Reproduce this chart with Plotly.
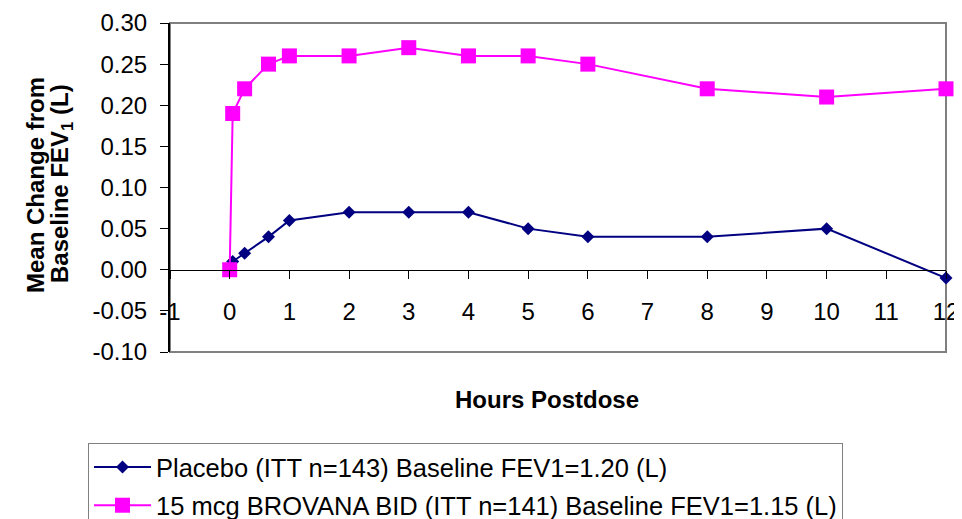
import plotly.graph_objects as go

hours_placebo = [0, 0.05, 0.25, 0.65, 1, 2, 3, 4, 5, 6, 8, 10, 12]
placebo = [0.00, 0.01, 0.02, 0.04, 0.06, 0.07, 0.07, 0.07, 0.05, 0.04, 0.04, 0.05, -0.01]

hours_brovana = [0, 0.05, 0.25, 0.65, 1, 2, 3, 4, 5, 6, 8, 10, 12]
brovana = [0.00, 0.19, 0.22, 0.25, 0.26, 0.26, 0.27, 0.26, 0.26, 0.25, 0.22, 0.21, 0.22]

name_placebo = "Placebo (ITT n=143) Baseline FEV1=1.20 (L)"
name_brovana = "15 mcg BROVANA BID (ITT n=141) Baseline FEV1=1.15 (L)"

x_ticks = list(range(-1, 13))
y_ticks = [-0.10, -0.05, 0.00, 0.05, 0.10, 0.15, 0.20, 0.25, 0.30]

FONT = "Liberation Sans, Arial, sans-serif"

# page has an 8px body margin, so the figure is offset by 8px
OFF = 8
PL, PR, PT, PB = 170, 946, 23, 352  # plot area in page pixels
W, H = 962 - OFF, 519 - OFF


def px(xp):
    return (xp - PL) / (PR - PL)


def py(yp):
    return (PB - yp) / (PB - PT)


fig = go.Figure()
fig.add_trace(go.Scatter(
    x=hours_placebo, y=placebo, name=name_placebo, mode="lines+markers",
    line=dict(color="#000080", width=2),
    marker=dict(symbol="diamond", size=10, color="#000080"),
    cliponaxis=False, legendgroup="a"))
fig.add_trace(go.Scatter(
    x=hours_brovana, y=brovana, name=name_brovana, mode="lines+markers",
    line=dict(color="#FF00FF", width=2),
    marker=dict(symbol="square", size=15, color="#FF00FF"),
    cliponaxis=False, legendgroup="b"))

fig.update_layout(
    width=W, height=H,
    margin=dict(l=PL - OFF, r=962 - PR, t=PT - OFF, b=519 - PB, autoexpand=False),
    paper_bgcolor="white", plot_bgcolor="white",
    font=dict(family=FONT, size=24, color="black"),
    showlegend=True,
    legend=dict(
        x=px(88), y=py(443), xanchor="left", yanchor="top",
        bordercolor="#808080", borderwidth=1, bgcolor="white",
        font=dict(family=FONT, size=25.5, color="black"),
        traceorder="grouped", tracegroupgap=2, itemwidth=57,
    ),
    xaxis=dict(
        range=[-1, 12], tickvals=x_ticks, ticktext=[str(v) for v in x_ticks],
        showgrid=False, zeroline=False,
        showline=True, linecolor="black", linewidth=1,
        ticks="outside", ticklen=8, tickcolor="black",
        anchor="free", position=0.25,
        ticklabelstandoff=12,
        tickfont=dict(family=FONT, size=24, color="black"),
    ),
    yaxis=dict(
        range=[-0.1, 0.3], tickvals=y_ticks,
        ticktext=[f"{v:.2f}" for v in y_ticks],
        showgrid=False, zeroline=False,
        showline=True, linecolor="black", linewidth=2,
        ticks="outside", ticklen=8, tickcolor="black",
        ticklabelstandoff=8,
        tickfont=dict(family=FONT, size=24, color="black"),
    ),
    shapes=[dict(type="rect", xref="paper", yref="paper", x0=0, x1=1, y0=0, y1=1,
                 line=dict(color="#808080", width=2), layer="below")],
    annotations=[
        dict(text="<b>Hours Postdose</b>", xref="paper", yref="paper",
             x=px(547), y=py(399), xanchor="center", yanchor="middle",
             showarrow=False, font=dict(family=FONT, size=24, color="black")),
        dict(text="<b>Mean Change from</b>", xref="paper", yref="paper",
             x=px(35), y=py(185), xanchor="center", yanchor="middle", textangle=-90,
             showarrow=False, font=dict(family=FONT, size=24, color="black")),
        dict(text="<b>Baseline FEV<sub>1</sub> (L)</b>", xref="paper", yref="paper",
             x=px(61), y=py(184), xanchor="center", yanchor="middle", textangle=-90,
             showarrow=False, font=dict(family=FONT, size=24, color="black")),
    ],
)

fig.write_html("out.html")
